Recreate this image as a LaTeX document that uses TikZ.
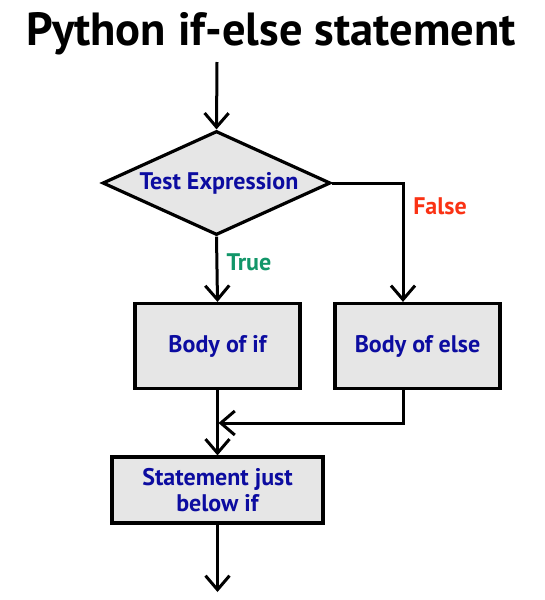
\documentclass[tikz,border=0pt]{standalone}
\usepackage{fontspec}
\setmainfont{PT Sans}
\usetikzlibrary{shapes.geometric,arrows.meta}
\definecolor{boxfill}{RGB}{230,230,230}
\definecolor{txtblue}{RGB}{12,12,160}
\definecolor{truegreen}{RGB}{18,150,105}
\definecolor{falsered}{RGB}{250,50,20}
\tikzset{
  conn/.style={line width=3pt,-{Straight Barb[length=14pt,width=24pt]}},
  procbox/.style={draw,line width=3.2pt,fill=boxfill,inner sep=0pt,align=center,
    font=\bfseries\fontsize{24}{26}\selectfont,text=txtblue},
  decbox/.style={diamond,draw,line width=3.2pt,fill=boxfill,inner sep=0pt,
    minimum width=228pt,minimum height=104pt,
    font=\bfseries\fontsize{24}{26}\selectfont,text=txtblue},
  edgelbl/.style={font=\bfseries\fontsize{24}{26}\selectfont}
}
\begin{document}
\begin{tikzpicture}[x=1pt,y=-1pt]
\useasboundingbox[fill=white] (0,0) rectangle (544,600);
\node[font=\bfseries\fontsize{46.5}{50}\selectfont] (title) at (271,34) {Python if-else statement};
\coordinate (start) at (217,62);
\node[decbox] (test) at (216.5,183) {\makebox[0pt][c]{\hspace*{5pt}Test Expression}};
\node[procbox,minimum width=165pt,minimum height=85pt] (bif) at (217.5,346) {Body of if};
\node[procbox,minimum width=165pt,minimum height=85pt] (belse) at (417.5,346) {Body of else};
\node[procbox,minimum width=211pt,minimum height=66pt] (stmt) at (217.5,490) {Statement just\\below if};
\coordinate (merge) at (218.5,423);
\coordinate (end) at (217.5,592);
\draw[conn] (start) -- (test.north);
\draw[conn] (test.south) -- (bif.north);
\node[edgelbl,text=truegreen] (tlbl) at (249,262) {True};
\draw[conn] (test.east) -| ([xshift=-14.5pt]belse.north);
\node[edgelbl,text=falsered] (flbl) at (440,206) {False};
\draw[conn] ([xshift=-14.5pt]belse.south) |- (merge);
\draw[conn] (bif.south) -- (stmt.north);
\draw[conn] (stmt.south) -- (end);
\end{tikzpicture}
\end{document}
